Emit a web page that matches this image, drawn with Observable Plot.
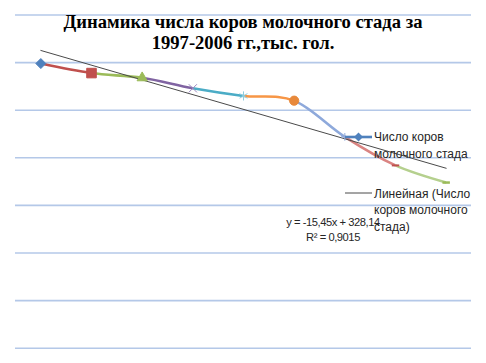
<!DOCTYPE html>
<html><head><meta charset="utf-8">
<script src="https://cdn.jsdelivr.net/npm/d3@7"></script>
<script src="https://cdn.jsdelivr.net/npm/@observablehq/plot@0.6"></script>
<style>
body{margin:0;background:#fff;}
#wrap{position:relative;width:486px;height:363px;overflow:hidden;background:#fff;}
#chart svg{display:block;}
#title{position:absolute;left:0;width:486px;top:12.2px;text-align:center;font-family:"Liberation Serif","Times New Roman",serif;font-weight:bold;font-size:18.6px;line-height:20.6px;color:#000;}
.txt{position:absolute;font-family:"Liberation Sans",Arial,sans-serif;font-size:12px;color:#262626;white-space:nowrap;}
.sw{position:absolute;line-height:0;}
.sw svg{display:block;}
</style></head><body>
<div id="wrap"><div id="chart"></div></div>
<script>
// ---- data ----
const points = [1, 2, 3, 4, 5, 6, 7, 8, 9];
const cows = [299, 289, 284, 273, 265, 260, 222, 192, 174];
const gridTicks = [0, 50, 100, 150, 200, 250, 300, 350];
const titleLines = ["Динамика числа коров молочного стада за", "1997-2006 гг.,тыс. гол."];
const seriesLabel = ["Число коров", "молочного стада"];
const trendLabel = ["Линейная (Число", "коров молочного", "стада)"];
const equationLines = ["y = -15,45x + 328,14", "R² = 0,9015"];

// ---- styles ----
const segColors = ["#C0504D", "#9BBB59", "#8064A2", "#4BACC6", "#F79646", "#8EA9DB", "#DA8482", "#B5D08E"];
const dash = {draw(ctx, size) { const w = Math.sqrt(size) * 0.5; ctx.moveTo(-w, 0); ctx.lineTo(w, 0); }};
const markerStyles = [
  {symbol: "diamond2", r: 4.5, fill: "#4F81BD", stroke: "#4F81BD", sw: 1},
  {symbol: "square", r: 5.4, fill: "#C0504D", stroke: "#C0504D", sw: 1},
  {symbol: "triangle", r: 3.8, fill: "#9BBB59", stroke: "#9BBB59", sw: 1},
  {symbol: "times", r: 3.8, fill: "none", stroke: "#9C88C0", sw: 1},
  {symbol: "asterisk", r: 4.3, fill: "none", stroke: "#8CCDE0", sw: 1},
  {symbol: "circle", r: 4.6, fill: "#E8893B", stroke: "#E8893B", sw: 1},
  {symbol: "plus", r: 2.6, fill: "none", stroke: "#8EA9DB", sw: 1},
  {symbol: dash, r: 4.2, fill: "none", stroke: "#C0504D", sw: 2},
  {symbol: dash, r: 4.2, fill: "none", stroke: "#9BBB59", sw: 2.5}
];

const rows = points.map((p, i) => ({x: p, y: cows[i]}));

const lineMarks = segColors.map(c => Plot.line(rows, {x: "x", y: "y", curve: "cardinal", stroke: c, strokeWidth: 2.6}));
const dotMarks = markerStyles.map((m, k) => Plot.dot(rows, {
  filter: (d, i) => i === k, x: "x", y: "y", symbol: m.symbol, r: m.r,
  fill: m.fill, stroke: m.stroke, strokeWidth: m.sw
}));

const chart = Plot.plot({
  width: 486, height: 363,
  marginLeft: 15, marginRight: 15, marginTop: 14.5, marginBottom: 15.3,
  x: {domain: [0.5, points.length + 0.5], axis: null},
  y: {domain: [0, 350], axis: null},
  style: {background: "#fff"},
  marks: [
    Plot.ruleY(gridTicks, {stroke: "#B4C8E8", strokeWidth: 1.6}),
    ...lineMarks,
    Plot.linearRegressionY(rows, {x: "x", y: "y", ci: 0, stroke: "#4a4a4a", strokeWidth: 1}),
    ...dotMarks
  ]
});
document.getElementById("chart").appendChild(chart);

// clip each coloured copy of the smoothed line to its own interval
const xs = chart.scale("x");
const svgNS = "http://www.w3.org/2000/svg";
const defs = document.createElementNS(svgNS, "defs");
chart.insertBefore(defs, chart.firstChild);
const groups = chart.querySelectorAll('g[aria-label="line"]');
groups.forEach((g, i) => {
  const x0 = xs.apply(points[i]), x1 = xs.apply(points[i + 1]);
  const cp = document.createElementNS(svgNS, "clipPath");
  cp.setAttribute("id", "seg" + i);
  const r = document.createElementNS(svgNS, "rect");
  r.setAttribute("x", x0); r.setAttribute("y", 0);
  r.setAttribute("width", x1 - x0); r.setAttribute("height", 363);
  cp.appendChild(r); defs.appendChild(cp);
  g.setAttribute("clip-path", "url(#seg" + i + ")");
});

// overlay texts (title, legend, equation)
const wrap = document.getElementById("wrap");
function addDiv(cls, html, css) {
  const d = document.createElement("div");
  d.className = cls; d.innerHTML = html; Object.assign(d.style, css); wrap.appendChild(d); return d;
}
const t = document.createElement("div"); t.id = "title"; t.innerHTML = titleLines.join("<br>"); wrap.appendChild(t);

addDiv("sw", `<svg width="30" height="12"><line x1="1" y1="6" x2="28" y2="6" stroke="#4F81BD" stroke-width="2.6"/><path d="M14.5,1.5L19,6L14.5,10.5L10,6Z" fill="#4F81BD"/></svg>`, {left: "344px", top: "131px"});
addDiv("txt", seriesLabel.join("<br>"), {left: "374px", top: "129px", lineHeight: "16.7px"});
addDiv("sw", `<svg width="30" height="6"><line x1="1" y1="3" x2="28" y2="3" stroke="#4a4a4a" stroke-width="1"/></svg>`, {left: "344px", top: "189.5px"});
addDiv("txt", trendLabel.join("<br>"), {left: "374px", top: "185.5px", lineHeight: "16.5px"});
addDiv("txt", equationLines.join("<br>"), {left: "273px", width: "120px", top: "215.4px", lineHeight: "14.6px", textAlign: "center", fontSize: "11.2px", letterSpacing: "-0.45px"});
</script>
</body></html>
